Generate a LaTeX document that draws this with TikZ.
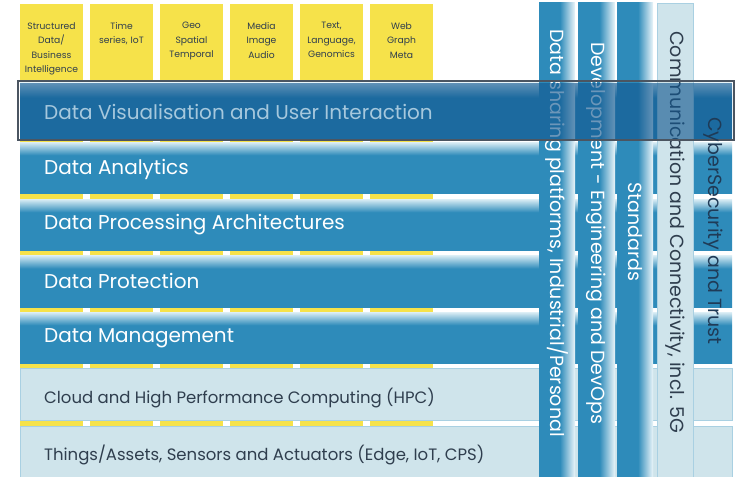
\documentclass[tikz,border=0pt]{standalone}
\usepackage{fontspec}
\setmainfont{Poppins}
\definecolor{barblue}{HTML}{2E8BBA}
\definecolor{barhi}{HTML}{DDEFF6}
\definecolor{darkbar}{HTML}{12578F}
\definecolor{paleblue}{HTML}{CFE4EB}
\definecolor{paleline}{HTML}{A9D0E2}
\definecolor{yel}{HTML}{F6E24A}
\definecolor{inkgrey}{HTML}{2F3E4E}
\definecolor{boxline}{HTML}{4B5561}
\definecolor{cyberink}{HTML}{1F3B57}
\definecolor{visink}{HTML}{A6C8DD}
\pgfdeclareverticalshading{barshade}{100bp}{color(0bp)=(barblue); color(25bp)=(barblue); color(62bp)=(barblue); color(75bp)=(barhi); color(100bp)=(barhi)}
\pgfdeclarehorizontalshading{colshade}{100bp}{color(0bp)=(barblue); color(25bp)=(barblue); color(54bp)=(barblue); color(75bp)=(barhi!60!white); color(100bp)=(barhi!60!white)}

\begin{document}
\begin{tikzpicture}[x=1pt,y=-1pt,
    yellowbox/.style={fill=yel},
    bluebar/.style={shading=barshade},
    palebar/.style={fill=paleblue, draw=paleline, line width=0.8},
    bluecol/.style={shading=colshade},
    palecol/.style={fill=paleblue, draw=paleline, line width=0.8},
    boxtext/.style={anchor=north, align=center, text width=62, inner sep=0, text=inkgrey, font=\fontsize{9.2}{14.5}\selectfont},
    barlabel/.style={anchor=west, inner sep=0, text=white, font=\fontsize{20}{22}\selectfont},
    palelabel/.style={anchor=west, inner sep=0, text=inkgrey, font=\fontsize{16.5}{18}\selectfont},
    collabel/.style={rotate=-90, inner sep=0, text=white, font=\fontsize{19}{20}\selectfont}]
  \useasboundingbox (0,0) rectangle (738,476);
  % data types on top
  \fill [yellowbox] (20,4) rectangle (83,426);
  \fill [yellowbox] (90,4) rectangle (153,426);
  \fill [yellowbox] (160,4) rectangle (223,426);
  \fill [yellowbox] (230,4) rectangle (293,426);
  \fill [yellowbox] (300,4) rectangle (363,426);
  \fill [yellowbox] (370,4) rectangle (433,426);
  \node [boxtext] (structured) at (51.5,22) {Structured\\Data/\\Business\\Intelligence};
  \node [boxtext] (timeseries) at (121.5,22) {Time\\series, IoT};
  \node [boxtext] (geo) at (191.5,22) {Geo\\Spatial\\Temporal};
  \node [boxtext] (media) at (261.5,22) {Media\\Image\\Audio};
  \node [boxtext] (text) at (331.5,22) {Text,\\Language,\\Genomics};
  \node [boxtext] (web) at (401.5,22) {Web\\Graph\\Meta};
  % horizontal layers
  \shade [bluebar] (20,83) rectangle (732,139);
  \shade [bluebar] (20,142) rectangle (732,193);
  \shade [bluebar] (20,199) rectangle (732,250);
  \shade [bluebar] (20,255) rectangle (732,307);
  \shade [bluebar] (20,312) rectangle (732,363);
  \draw [palebar] (20,368) rectangle (732,420);
  \draw [palebar] (20,426) rectangle (732,477);
  \node [barlabel] (analytics) at (44,169) {Data Analytics};
  \node [barlabel] (processing) at (44,225) {Data Processing Architectures};
  \node [barlabel] (protection) at (44,281) {Data Protection};
  \node [barlabel] (management) at (44,338) {Data Management};
  \node [palelabel] (cloud) at (44,398) {Cloud and High Performance Computing (HPC)};
  \node [palelabel] (things) at (44,455) {Things/Assets, Sensors and Actuators (Edge, IoT, CPS)};
  % vertical pillars
  \shade [bluecol] (539,3) rectangle (575,477);
  \shade [bluecol] (578,3) rectangle (615,477);
  \shade [bluecol] (617,3) rectangle (653,477);
  \draw [palecol] (657,3) rectangle (693,477);
  \node [collabel] (sharing) at (557,233) {Data sharing platforms, Industrial/Personal};
  \node [collabel] (devops) at (596,233) {Development - Engineering and DevOps};
  \node [collabel] (standards) at (635,232) {Standards};
  \node [collabel, text=inkgrey] (comms) at (675,232) {Communication and Connectivity, incl. 5G};
  % visualisation layer on top
  \fill [darkbar, opacity=0.62] (20,83) rectangle (732,139);
  \node [barlabel, text=visink] (visual) at (44,112) {Data Visualisation and User Interaction};
  \draw [boxline, line width=2] (18,81) rectangle (734,140);
  \node [collabel, text=cyberink] (cyber) at (713,231) {CyberSecurity and Trust};
\end{tikzpicture}
\end{document}
